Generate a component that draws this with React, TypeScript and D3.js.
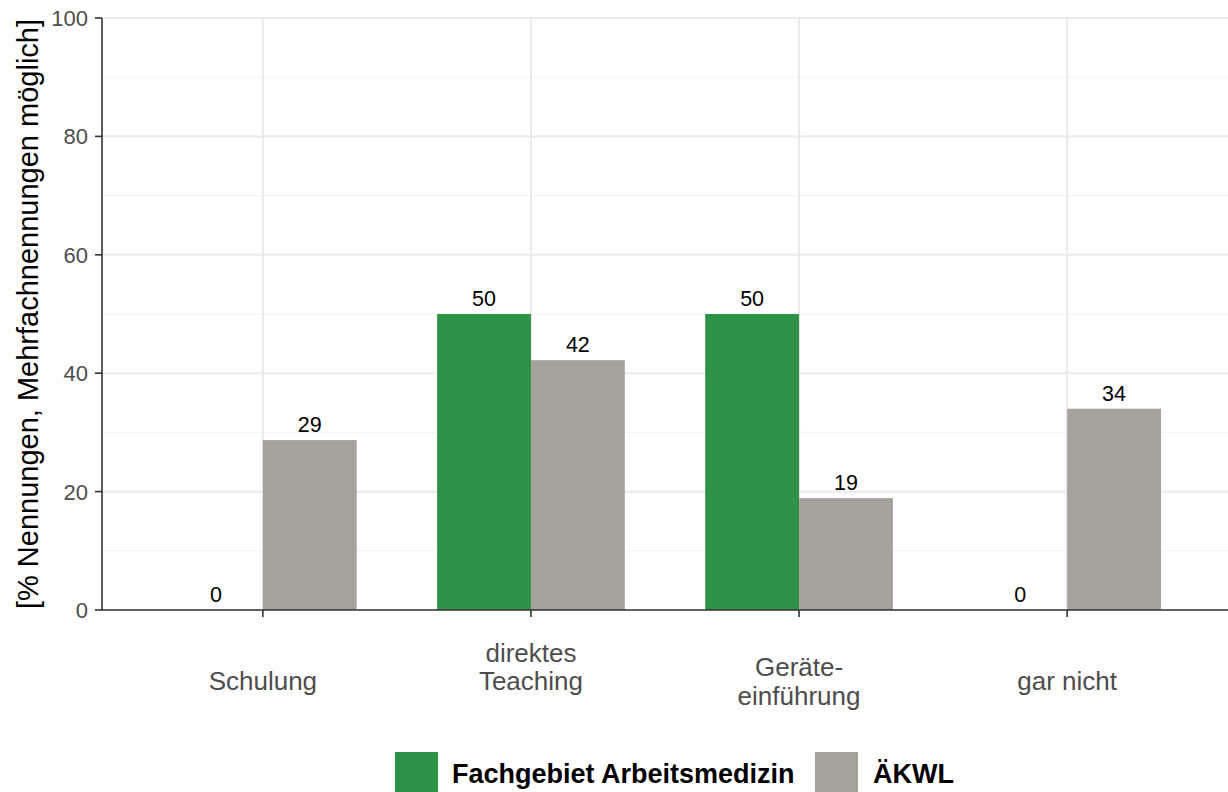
import * as d3 from "d3";
import React from "react";

const categories = ["Schulung", "direktes Teaching", "Geräte-einführung", "gar nicht"];
const categoryLines = [["", "Schulung"], ["direktes", "Teaching"], ["", "Geräte-", "einführung"], ["", "gar nicht"]];
const seriesNames = ["Fachgebiet Arbeitsmedizin", "ÄKWL"];
const seriesColours = ["#2E9148", "#A5A29B"];
const fachgebiet = [0, 50, 50, 0];
const aekwl = [28.7, 42.2, 18.9, 34.0];
const yTicks = [0, 20, 40, 60, 80, 100];
const yMinor = [10, 30, 50, 70, 90];

const width = 1228;
const height = 792;
const marginLeft = 102;
const marginTop = 18;
const plotBottom = 610;

function App() {
    const x = d3.scaleBand<string>()
        .domain(categories)
        .range([marginLeft, width])
        .paddingInner(0)
        .paddingOuter(0.1);
    const y = d3.scaleLinear().domain([0, 100]).range([plotBottom, marginTop]);

    const step = x.step();
    const barW = step * 0.35;
    const series = [fachgebiet, aekwl];
    const centre = (c: string) => (x(c) || 0) + step / 2;

    const font = "'Liberation Sans', Arial, sans-serif";
    const lineH = 28.7;
    const labelMid = 666.5;

    return (
        <svg width={width} height={height} style={{ position: "absolute", left: 0, top: 0, background: "#fff" }}>
            {/* minor grid */}
            {yMinor.map(v => (
                <line key={"mi" + v} x1={marginLeft} x2={width} y1={y(v)} y2={y(v)} stroke="#F2F2F2" strokeWidth={1.1} />
            ))}
            {/* major grid */}
            {yTicks.map(v => (
                <line key={"ma" + v} x1={marginLeft} x2={width} y1={y(v)} y2={y(v)} stroke="#EBEBEB" strokeWidth={2.1} />
            ))}
            {categories.map(c => (
                <line key={"vg" + c} x1={centre(c)} x2={centre(c)} y1={marginTop} y2={plotBottom} stroke="#EBEBEB" strokeWidth={2.1} />
            ))}

            {/* bars */}
            {series.map((vals, si) => categories.map((c, i) => (
                <rect key={"b" + si + i}
                    x={centre(c) - barW + si * barW}
                    y={y(vals[i])}
                    width={barW}
                    height={plotBottom - y(vals[i])}
                    fill={seriesColours[si]} />
            )))}

            {/* value labels */}
            {series.map((vals, si) => categories.map((c, i) => (
                <text key={"l" + si + i}
                    x={centre(c) - barW / 2 + si * barW}
                    y={y(vals[i]) - 8}
                    textAnchor="middle"
                    fontFamily={font}
                    fontSize={21.5}
                    fill="#000">{Math.round(vals[i])}</text>
            )))}

            {/* axes */}
            <line x1={marginLeft} x2={marginLeft} y1={marginTop} y2={plotBottom} stroke="#333" strokeWidth={1.6} />
            <line x1={marginLeft} x2={width} y1={plotBottom} y2={plotBottom} stroke="#333" strokeWidth={1.6} />
            {yTicks.map(v => (
                <g key={"yt" + v}>
                    <line x1={marginLeft - 7} x2={marginLeft} y1={y(v)} y2={y(v)} stroke="#333" strokeWidth={1.6} />
                    <text x={marginLeft - 14} y={y(v)} dy="0.36em" textAnchor="end" fontFamily={font} fontSize={22} fill="#4D4D4D">{v}</text>
                </g>
            ))}
            {categories.map((c, i) => {
                const lines = categoryLines[i];
                const first = labelMid - (lines.length - 1) * lineH / 2;
                return (
                    <g key={"xt" + c}>
                        <line x1={centre(c)} x2={centre(c)} y1={plotBottom} y2={plotBottom + 7} stroke="#333" strokeWidth={1.6} />
                        <text textAnchor="middle" fontFamily={font} fontSize={26} fill="#4D4D4D">
                            {lines.map((l, j) => (
                                <tspan key={j} x={centre(c)} y={first + j * lineH} dy="0.36em">{l}</tspan>
                            ))}
                        </text>
                    </g>
                );
            })}

            {/* y title */}
            <text transform={`translate(28, ${(marginTop + plotBottom) / 2}) rotate(-90)`}
                textAnchor="middle" dy="0.36em" fontFamily={font} fontSize={29} fill="#000">
                [% Nennungen, Mehrfachnennungen möglich]
            </text>

            {/* legend */}
            <rect x={395} y={752} width={43} height={42} fill={seriesColours[0]} />
            <text x={452} y={773} dy="0.36em" fontFamily={font} fontWeight="bold" fontSize={27} fill="#000">{seriesNames[0]}</text>
            <rect x={815} y={752} width={43} height={42} fill={seriesColours[1]} />
            <text x={873} y={773} dy="0.36em" fontFamily={font} fontWeight="bold" fontSize={27} fill="#000">{seriesNames[1]}</text>
        </svg>
    );
}

export default App;
